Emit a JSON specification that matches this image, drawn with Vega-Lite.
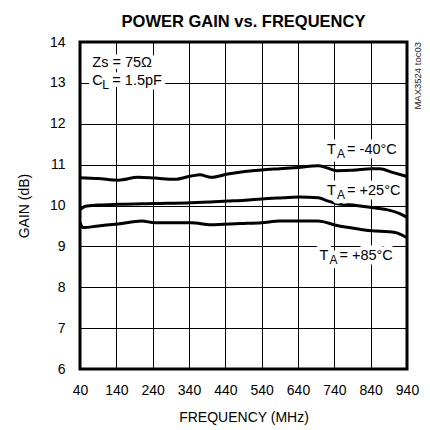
{
  "$schema": "https://vega.github.io/schema/vega-lite/v6.json",
  "width": 327,
  "height": 327,
  "autosize": {"type": "none"},
  "padding": {"left": 80, "top": 42, "right": 23, "bottom": 61},
  "background": "white",
  "title": {
    "text": "POWER GAIN vs. FREQUENCY",
    "font": "Liberation Sans",
    "fontSize": 16.5,
    "fontWeight": "bold",
    "color": "black",
    "anchor": "middle",
    "baseline": "alphabetic",
    "offset": 11,
    "dy": 19
  },
  "config": {
    "view": {"stroke": "black", "strokeWidth": 3},
    "axis": {
      "labelFont": "Liberation Sans",
      "titleFont": "Liberation Sans",
      "labelFontSize": 14,
      "titleFontSize": 14,
      "titleFontWeight": "normal",
      "labelColor": "black",
      "titleColor": "black",
      "grid": true,
      "gridColor": "black",
      "gridOpacity": 1,
      "gridWidth": 1,
      "domain": false,
      "ticks": false,
      "labelOverlap": false,
      "labelFlush": false
    }
  },
  "datasets": {
    "curves": [
      {"f": 40, "g": 10.68, "s": "-40"}, {"f": 90, "g": 10.66, "s": "-40"}, {"f": 145, "g": 10.62, "s": "-40"},
      {"f": 200, "g": 10.69, "s": "-40"}, {"f": 246, "g": 10.67, "s": "-40"}, {"f": 301, "g": 10.64, "s": "-40"},
      {"f": 346, "g": 10.72, "s": "-40"}, {"f": 370, "g": 10.75, "s": "-40"}, {"f": 401, "g": 10.69, "s": "-40"},
      {"f": 447, "g": 10.77, "s": "-40"}, {"f": 494, "g": 10.83, "s": "-40"}, {"f": 540, "g": 10.87, "s": "-40"},
      {"f": 590, "g": 10.9, "s": "-40"}, {"f": 640, "g": 10.93, "s": "-40"}, {"f": 695, "g": 10.97, "s": "-40"},
      {"f": 720, "g": 10.92, "s": "-40"}, {"f": 747, "g": 10.85, "s": "-40"}, {"f": 790, "g": 10.86, "s": "-40"},
      {"f": 843, "g": 10.9, "s": "-40"}, {"f": 865, "g": 10.9, "s": "-40"}, {"f": 900, "g": 10.81, "s": "-40"},
      {"f": 940, "g": 10.71, "s": "-40"},
      {"f": 40, "g": 9.9, "s": "+25"}, {"f": 55, "g": 9.98, "s": "+25"}, {"f": 90, "g": 10.01, "s": "+25"},
      {"f": 145, "g": 10.03, "s": "+25"}, {"f": 246, "g": 10.05, "s": "+25"}, {"f": 346, "g": 10.07, "s": "+25"},
      {"f": 447, "g": 10.11, "s": "+25"}, {"f": 494, "g": 10.13, "s": "+25"}, {"f": 540, "g": 10.16, "s": "+25"},
      {"f": 600, "g": 10.19, "s": "+25"}, {"f": 641, "g": 10.21, "s": "+25"}, {"f": 696, "g": 10.19, "s": "+25"},
      {"f": 719, "g": 10.12, "s": "+25"}, {"f": 746, "g": 10.05, "s": "+25"}, {"f": 800, "g": 10.0, "s": "+25"},
      {"f": 843, "g": 9.95, "s": "+25"}, {"f": 893, "g": 9.88, "s": "+25"}, {"f": 920, "g": 9.8, "s": "+25"},
      {"f": 940, "g": 9.71, "s": "+25"},
      {"f": 40, "g": 9.58, "s": "+85"}, {"f": 48, "g": 9.46, "s": "+85"}, {"f": 90, "g": 9.5, "s": "+85"},
      {"f": 145, "g": 9.55, "s": "+85"}, {"f": 210, "g": 9.62, "s": "+85"}, {"f": 246, "g": 9.58, "s": "+85"},
      {"f": 346, "g": 9.58, "s": "+85"}, {"f": 401, "g": 9.53, "s": "+85"}, {"f": 480, "g": 9.56, "s": "+85"},
      {"f": 540, "g": 9.58, "s": "+85"}, {"f": 590, "g": 9.62, "s": "+85"}, {"f": 640, "g": 9.62, "s": "+85"},
      {"f": 695, "g": 9.62, "s": "+85"}, {"f": 747, "g": 9.51, "s": "+85"}, {"f": 810, "g": 9.42, "s": "+85"},
      {"f": 843, "g": 9.38, "s": "+85"}, {"f": 890, "g": 9.36, "s": "+85"}, {"f": 912, "g": 9.33, "s": "+85"},
      {"f": 940, "g": 9.21, "s": "+85"}
    ],
    "labels": [
      {"x": 74, "y": 13.4, "main": "Zs = 75Ω", "sub": "", "rest": ""},
      {"x": 74, "y": 12.955, "main": "C", "sub": "L", "rest": "= 1.5pF"},
      {"x": 720, "y": 11.26, "main": "T", "sub": "A", "rest": "= -40°C"},
      {"x": 720, "y": 10.26, "main": "T", "sub": "A", "rest": "= +25°C"},
      {"x": 699, "y": 8.67, "main": "T", "sub": "A", "rest": "= +85°C"}
    ],
    "note": [
      {"x": 940, "y": 14, "t": "MAX3524 toc03"}
    ]
  },
  "layer": [
    {
      "data": {"name": "curves"},
      "mark": {"type": "line", "color": "black", "strokeWidth": 3, "interpolate": "monotone"},
      "encoding": {
        "x": {"field": "f", "type": "quantitative",
              "scale": {"domain": [40, 940], "nice": false, "zero": false},
              "axis": {"values": [40, 140, 240, 340, 440, 540, 640, 740, 840, 940], "labelOverlap": false,
                       "tickCount": 30, "labelSeparation": 0, "format": "d", "labelFlush": false,
                       "title": "FREQUENCY (MHz)", "labelPadding": 14, "titlePadding": 13}},
        "y": {"field": "g", "type": "quantitative",
              "scale": {"domain": [6, 14], "nice": false, "zero": false},
              "axis": {"values": [6, 7, 8, 9, 10, 11, 12, 13, 14], "labelOverlap": false, "tickCount": 30,
                       "format": "d", "labelFlush": false,
                       "title": "GAIN (dB)", "labelPadding": 15, "titlePadding": 18}},
        "detail": {"field": "s"}
      }
    },
    {
      "data": {"name": "labels"},
      "mark": {"type": "text", "align": "left", "baseline": "alphabetic", "fontSize": 14.5, "font": "Liberation Sans",
               "stroke": "white", "strokeWidth": 9, "strokeJoin": "round", "fill": "white"},
      "encoding": {"x": {"field": "x", "type": "quantitative"}, "y": {"field": "y", "type": "quantitative"}, "text": {"field": "main"}}
    },
    {
      "data": {"name": "labels"},
      "mark": {"type": "text", "align": "left", "baseline": "alphabetic", "fontSize": 12, "dx": 10, "dy": 4, "font": "Liberation Sans",
               "stroke": "white", "strokeWidth": 9, "strokeJoin": "round", "fill": "white"},
      "encoding": {"x": {"field": "x", "type": "quantitative"}, "y": {"field": "y", "type": "quantitative"}, "text": {"field": "sub"}}
    },
    {
      "data": {"name": "labels"},
      "mark": {"type": "text", "align": "left", "baseline": "alphabetic", "fontSize": 14.5, "dx": 20, "font": "Liberation Sans",
               "stroke": "white", "strokeWidth": 9, "strokeJoin": "round", "fill": "white"},
      "encoding": {"x": {"field": "x", "type": "quantitative"}, "y": {"field": "y", "type": "quantitative"}, "text": {"field": "rest"}}
    },
    {
      "data": {"name": "labels"},
      "mark": {"type": "text", "align": "left", "baseline": "alphabetic", "fontSize": 14.5, "color": "black", "font": "Liberation Sans"},
      "encoding": {"x": {"field": "x", "type": "quantitative"}, "y": {"field": "y", "type": "quantitative"}, "text": {"field": "main"}}
    },
    {
      "data": {"name": "labels"},
      "mark": {"type": "text", "align": "left", "baseline": "alphabetic", "fontSize": 12, "dx": 10, "dy": 4, "color": "black", "font": "Liberation Sans"},
      "encoding": {"x": {"field": "x", "type": "quantitative"}, "y": {"field": "y", "type": "quantitative"}, "text": {"field": "sub"}}
    },
    {
      "data": {"name": "labels"},
      "mark": {"type": "text", "align": "left", "baseline": "alphabetic", "fontSize": 14.5, "dx": 20, "color": "black", "font": "Liberation Sans"},
      "encoding": {"x": {"field": "x", "type": "quantitative"}, "y": {"field": "y", "type": "quantitative"}, "text": {"field": "rest"}}
    },
    {
      "data": {"name": "note"},
      "mark": {"type": "text", "angle": 270, "align": "right", "baseline": "alphabetic", "fontSize": 9.5, "dy": 13.5, "color": "#222222", "font": "Liberation Sans"},
      "encoding": {"x": {"field": "x", "type": "quantitative"}, "y": {"field": "y", "type": "quantitative"}, "text": {"field": "t"}}
    }
  ]
}
